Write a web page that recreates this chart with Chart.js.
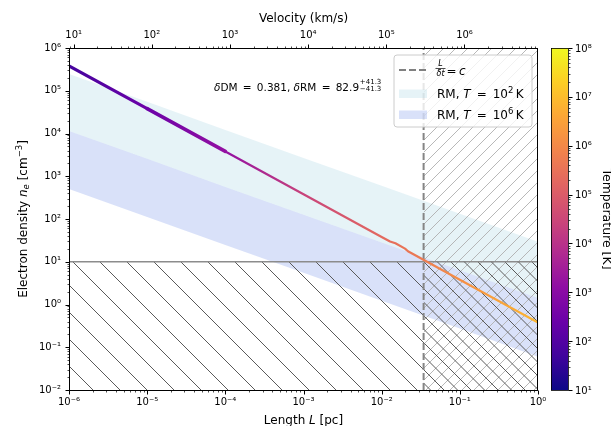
<!DOCTYPE html>
<html>
<head>
<meta charset="utf-8">
<script src="https://cdn.jsdelivr.net/npm/chart.js@4.4.1/dist/chart.umd.min.js"></script>
<style>
  html, body { margin: 0; padding: 0; background: #fff; }
  #c { display: block; }
</style>
</head>
<body>
<canvas id="c" width="611" height="426"></canvas>
<script>
/* n_e – L constraint plot: DM track coloured by temperature, RM bands,
   excluded regions (n_e floor, light-travel limit) and a velocity top axis. */

/* ---------- constants ---------- */
var PC_KM = 3.0857e13;      // km per parsec
var C_KMS = 2.998e5;        // speed of light [km/s]
var DELTA_T_S = 3.54e6;     // variability time-scale δt [s]
var DELTA_DM = 0.381;
var DELTA_RM = 82.9, DELTA_RM_ERR = 41.3;
var NE_FLOOR = 10;          // lower density limit [cm^-3]

/* ---------- data ---------- */
// DM track, n_e = δDM / L (with the small kink near 0.015 pc)
var trackL  = [1e-6, 1e-5, 1e-4, 1e-3, 1e-2, 0.0128, 0.0150, 0.0199, 0.0217, 0.1, 1];
var trackNe = [3.81e5, 3.81e4, 3810, 381, 38.1, 29.8, 27.0, 20.3, 17.6, 3.81, 0.381];

// temperature along the track [K]
var tempL = [1e-6, 1e-5, 1e-4, 1e-3, 1e-2, 1e-1, 1];
var tempK = [60, 280, 1500, 2.5e4, 2e5, 1.3e6, 8e6];

// RM bands (edges at each decade of L)
var bandL     = [1e-6, 1e-5, 1e-4, 1e-3, 1e-2, 1e-1, 1];
var rmCoolTop = [2.45e5, 5.5e4, 1.2e4, 2690, 603, 132, 29.5];
var rmHotTop  = [1.15e4, 2570, 562, 126, 28.2, 6.31, 1.41];
var rmHotBot  = [501, 112, 24.5, 5.5, 1.23, 0.275, 0.060];

// axis decades
var xDecades = [-6, -5, -4, -3, -2, -1, 0];
var yDecades = [-2, -1, 0, 1, 2, 3, 4, 5, 6];
var tDecades = [1, 2, 3, 4, 5, 6, 7, 8];

var L_MIN = Math.pow(10, xDecades[0]), L_MAX = Math.pow(10, xDecades[xDecades.length - 1]);
var NE_MIN = Math.pow(10, yDecades[0]), NE_MAX = Math.pow(10, yDecades[yDecades.length - 1]);
var T_MIN = Math.pow(10, tDecades[0]), T_MAX = Math.pow(10, tDecades[tDecades.length - 1]);
var V_MIN = L_MIN * PC_KM / DELTA_T_S, V_MAX = L_MAX * PC_KM / DELTA_T_S;
var L_LIGHT = C_KMS * DELTA_T_S / PC_KM;   // L where L/δt = c

/* ---------- helpers ---------- */
var FONT = '"DejaVu Sans", sans-serif';
var PLASMA = ['#0d0887', '#41049d', '#6a00a8', '#8f0da4', '#b12a90', '#cc4778',
              '#e16462', '#f2844b', '#fca636', '#fcce25', '#f0f921'];
var EQ = '\u2002=\u2002';   // wide spacing round "=" as in math text

function hexRgb(h) { return [parseInt(h.slice(1, 3), 16), parseInt(h.slice(3, 5), 16), parseInt(h.slice(5, 7), 16)]; }
function plasma(t) {
  t = Math.max(0, Math.min(1, t));
  var f = t * (PLASMA.length - 1), i = Math.min(Math.floor(f), PLASMA.length - 2), u = f - i;
  var a = hexRgb(PLASMA[i]), b = hexRgb(PLASMA[i + 1]);
  return 'rgb(' + [0, 1, 2].map(function (k) { return Math.round(a[k] + (b[k] - a[k]) * u); }).join(',') + ')';
}
function tNorm(T) { return (Math.log10(T) - tDecades[0]) / (tDecades[tDecades.length - 1] - tDecades[0]); }

var SUP = { '-': '\u207b', '0': '\u2070', '1': '\u00b9', '2': '\u00b2', '3': '\u00b3', '4': '\u2074',
            '5': '\u2075', '6': '\u2076', '7': '\u2077', '8': '\u2078', '9': '\u2079' };
function pow10Label(e) { return '10' + String(e).split('').map(function (ch) { return SUP[ch]; }).join(''); }

function decadeTicks(min, max) {
  var lo = Math.floor(Math.log10(min) + 1e-9), hi = Math.ceil(Math.log10(max) - 1e-9), out = [];
  for (var e = lo; e <= hi; e++) {
    for (var m = 1; m <= 9; m++) {
      var v = m * Math.pow(10, e);
      if (v >= min * 0.9999 && v <= max * 1.0001) out.push({ value: v, major: m === 1 });
    }
  }
  return out;
}
function setTicks(scale) { scale.ticks = decadeTicks(scale.min, scale.max); }
function tickLabel(v, i, ticks) { return ticks[i] && ticks[i].major ? pow10Label(Math.round(Math.log10(v))) : ''; }

function hatch(size, dir, color, width, shift) {
  var c = document.createElement('canvas');
  c.width = c.height = size;
  var g = c.getContext('2d');
  g.strokeStyle = color; g.lineWidth = width;
  for (var k = -1; k <= 1; k++) {
    var o = k * size + (shift || 0);
    g.beginPath();
    if (dir === '\\') { g.moveTo(o - 1, -1); g.lineTo(o + size + 1, size + 1); }
    else { g.moveTo(o - 1, size + 1); g.lineTo(o + size + 1, -1); }
    g.stroke();
  }
  return g.createPattern(c, 'repeat');
}

var gradCache = null;
function trackGradient(chart) {
  var area = chart.chartArea;
  if (!area) return '#6a00a8';
  var key = area.left + ',' + area.right;
  if (gradCache && gradCache.key === key) return gradCache.g;
  var xs = chart.scales.x, g = chart.ctx.createLinearGradient(area.left, 0, area.right, 0);
  tempL.forEach(function (l, i) {
    var f = (xs.getPixelForValue(l) - area.left) / (area.right - area.left);
    g.addColorStop(Math.max(0, Math.min(1, f)), plasma(tNorm(tempK[i])));
  });
  gradCache = { key: key, g: g };
  return g;
}

function pts(xs, ys) { return xs.map(function (x, i) { return { x: x, y: ys[i] }; }); }

/* rich text: parts = [{t, it, sz, dy}] */
function richWidth(ctx, parts, size) {
  var w = 0;
  parts.forEach(function (p) { ctx.font = (p.it ? 'italic ' : '') + (p.sz || size) + 'px ' + FONT; w += ctx.measureText(p.t).width; });
  return w;
}
function drawRich(ctx, parts, x, y, rot, size, align) {
  ctx.save();
  ctx.translate(x, y); ctx.rotate(rot || 0);
  ctx.textBaseline = 'alphabetic'; ctx.textAlign = 'left'; ctx.fillStyle = '#000';
  var cx = align === 'center' ? -richWidth(ctx, parts, size) / 2 : 0;
  parts.forEach(function (p) {
    ctx.font = (p.it ? 'italic ' : '') + (p.sz || size) + 'px ' + FONT;
    ctx.fillText(p.t, cx, p.dy || 0);
    cx += ctx.measureText(p.t).width;
  });
  ctx.restore();
  return cx;
}

/* ---------- frame, ticks, colour bar, titles, legend ---------- */
function tickMarks(ctx, scale, list, edge, dir) {
  list.forEach(function (t) {
    var p = Math.round(scale.getPixelForValue(t.value)) + 0.5, len = t.major ? 4 : 2;
    ctx.lineWidth = t.major ? 1 : 0.7;
    ctx.beginPath();
    if (scale.isHorizontal()) { ctx.moveTo(p, edge); ctx.lineTo(p, edge + dir * len); }
    else { ctx.moveTo(edge, p); ctx.lineTo(edge + dir * len, p); }
    ctx.stroke();
  });
}

var decor = {
  id: 'decor',
  afterDraw: function (chart) {
    var ctx = chart.ctx, a = chart.chartArea, s = chart.scales;
    ctx.save();
    ctx.strokeStyle = '#000';

    // axes frame and tick marks
    ctx.lineWidth = 1;
    ctx.strokeRect(a.left + 0.5, a.top + 0.5, a.right - a.left - 1, a.bottom - a.top);
    tickMarks(ctx, s.x, decadeTicks(L_MIN, L_MAX), a.bottom + 0.5, 1);
    tickMarks(ctx, s.xTop, decadeTicks(V_MIN, V_MAX), a.top + 0.5, -1);
    tickMarks(ctx, s.y, decadeTicks(NE_MIN, NE_MAX), a.left + 0.5, -1);

    // colour bar
    var cbL = a.right + 13, cbW = 17, yT = s.yT;
    var top = yT.getPixelForValue(T_MAX), bot = yT.getPixelForValue(T_MIN);
    var g = ctx.createLinearGradient(0, bot, 0, top);
    PLASMA.forEach(function (c, i) { g.addColorStop(i / (PLASMA.length - 1), c); });
    ctx.fillStyle = g;
    ctx.fillRect(cbL, top, cbW, bot - top);
    ctx.lineWidth = 0.8;
    ctx.strokeRect(cbL + 0.5, top + 0.5, cbW, bot - top);
    tickMarks(ctx, yT, decadeTicks(T_MIN, T_MAX), cbL + cbW + 0.5, 1);
    ctx.fillStyle = '#000'; ctx.font = '10px ' + FONT;
    ctx.textAlign = 'left'; ctx.textBaseline = 'middle';
    tDecades.forEach(function (e) { ctx.fillText(pow10Label(e), cbL + cbW + 7, yT.getPixelForValue(Math.pow(10, e)) + 1); });

    // axis titles
    var midY = (a.top + a.bottom) / 2, midX = (a.left + a.right) / 2;
    drawRich(ctx, [{ t: 'Electron density ' }, { t: 'n', it: 1 }, { t: 'e', it: 1, sz: 8.5, dy: 2 },
      { t: ' [cm' }, { t: '\u22123', sz: 8.5, dy: -5 }, { t: ']' }], 27, midY, -Math.PI / 2, 12, 'center');
    drawRich(ctx, [{ t: 'Length ' }, { t: 'L', it: 1 }, { t: ' [pc]' }], midX, 424, 0, 12, 'center');
    drawRich(ctx, [{ t: 'Velocity (km/s)' }], midX, 22, 0, 12, 'center');
    drawRich(ctx, [{ t: 'Temperature [K]' }], 602.5, midY, Math.PI / 2, 12.5, 'center');

    // δDM / δRM note
    var x0 = 214, base = 90.7;
    var xe = x0 + drawRich(ctx, [{ t: '\u03b4', it: 1 }, { t: 'DM' + EQ + DELTA_DM.toFixed(3) + ', ' }, { t: '\u03b4', it: 1 },
      { t: 'RM' + EQ + DELTA_RM.toFixed(1) }], x0, base, 0, 10.5, 'left');
    drawRich(ctx, [{ t: '+' + DELTA_RM_ERR.toFixed(1) }], xe + 0.8, base - 6.5, 0, 7, 'left');
    drawRich(ctx, [{ t: '\u2212' + DELTA_RM_ERR.toFixed(1) }], xe + 0.8, base, 0, 7, 'left');

    // legend
    var lx = 394, ly = 55, lw = 138, lh = 72, r = 3;
    ctx.beginPath();
    ctx.moveTo(lx + r, ly); ctx.lineTo(lx + lw - r, ly); ctx.arcTo(lx + lw, ly, lx + lw, ly + r, r);
    ctx.lineTo(lx + lw, ly + lh - r); ctx.arcTo(lx + lw, ly + lh, lx + lw - r, ly + lh, r);
    ctx.lineTo(lx + r, ly + lh); ctx.arcTo(lx, ly + lh, lx, ly + lh - r, r);
    ctx.lineTo(lx, ly + r); ctx.arcTo(lx, ly, lx + r, ly, r); ctx.closePath();
    ctx.fillStyle = 'rgba(255,255,255,0.8)'; ctx.fill();
    ctx.strokeStyle = '#cccccc'; ctx.lineWidth = 1; ctx.stroke();

    ctx.strokeStyle = '#808080'; ctx.lineWidth = 2; ctx.setLineDash([7, 3]);
    ctx.beginPath(); ctx.moveTo(399, 70); ctx.lineTo(427, 70); ctx.stroke();
    ctx.setLineDash([]);
    drawRich(ctx, [{ t: 'L', it: 1 }], 440.5, 66.3, 0, 8, 'center');
    ctx.strokeStyle = '#000'; ctx.lineWidth = 0.7;
    ctx.beginPath(); ctx.moveTo(435.5, 68.5); ctx.lineTo(445.5, 68.5); ctx.stroke();
    drawRich(ctx, [{ t: '\u03b4t', it: 1 }], 440.5, 75.5, 0, 8, 'center');
    drawRich(ctx, [{ t: '=' }], 446.5, 74.5, 0, 12, 'left');
    drawRich(ctx, [{ t: 'c', it: 1 }], 459, 74.5, 0, 12, 'left');

    ctx.fillStyle = 'rgba(173,216,230,0.3)'; ctx.fillRect(399, 89.5, 28, 8.5);
    ctx.fillStyle = 'rgba(65,105,225,0.2)'; ctx.fillRect(399, 110.5, 28, 8.5);
    [['2', 98], ['6', 119]].forEach(function (row) {
      drawRich(ctx, [{ t: 'RM, ' }, { t: 'T', it: 1 }, { t: EQ + '10' }, { t: row[0], sz: 8.5, dy: -5 },
        { t: '\u2009K' }], 437, row[1], 0, 12, 'left');
    });
    ctx.restore();
  }
};

/* ---------- chart ---------- */
var tickFont = { family: FONT, size: 10 };
new Chart(document.getElementById('c'), {
  type: 'line',
  data: {
    datasets: [
      { // 0: DM track
        data: pts(trackL, trackNe), order: 0, fill: false, pointRadius: 0,
        borderColor: function (c) { return trackGradient(c.chart); },
        borderWidth: 2.2, borderCapStyle: 'round', borderJoinStyle: 'round',
        segment: {
          borderColor: function (c) { return trackGradient(c.chart); },
          borderWidth: function (c) { var x = c.p0.parsed.x; return x < 9e-6 ? 3 : (x < 9e-5 ? 3.6 : 2.2); }
        }
      },
      { // 1: light-travel limit
        data: [{ x: L_LIGHT, y: NE_MIN }, { x: L_LIGHT, y: NE_MAX }], order: 1, fill: false, pointRadius: 0,
        borderColor: '#858585', borderWidth: 2, borderDash: [7, 3]
      },
      { // 2: extra back-hatch below the floor, beyond the light limit
        data: [{ x: L_LIGHT, y: NE_FLOOR }, { x: L_MAX, y: NE_FLOOR }], order: 2, pointRadius: 0,
        fill: 'start', backgroundColor: hatch(27, '\\', '#5a5a5a', 1, 13.5), borderColor: 'transparent', borderWidth: 0
      },
      { // 3: density floor
        data: [{ x: L_MIN, y: NE_FLOOR }, { x: L_MAX, y: NE_FLOOR }], order: 3, pointRadius: 0,
        fill: 'start', backgroundColor: hatch(27, '\\', '#5a5a5a', 1, 0), borderColor: '#8c8c8c', borderWidth: 1.6
      },
      { // 4: superluminal region
        data: [{ x: L_LIGHT, y: NE_MAX }, { x: L_MAX, y: NE_MAX }], order: 4, pointRadius: 0,
        fill: 'start', backgroundColor: hatch(12, '/', '#b0b0b0', 0.9, 0), borderColor: 'transparent', borderWidth: 0
      },
      { // 5: RM band, T = 1e6 K (upper edge)
        data: pts(bandL, rmHotTop), order: 5, pointRadius: 0,
        fill: 6, backgroundColor: 'rgba(65,105,225,0.2)', borderColor: 'transparent', borderWidth: 0
      },
      { // 6: RM band, T = 1e6 K (lower edge)
        data: pts(bandL, rmHotBot), order: 6, pointRadius: 0, fill: false,
        borderColor: 'transparent', borderWidth: 0
      },
      { // 7: RM band, T = 1e2 K
        data: pts(bandL, rmCoolTop), order: 7, pointRadius: 0,
        fill: 5, backgroundColor: 'rgba(173,216,230,0.3)', borderColor: 'transparent', borderWidth: 0
      }
    ]
  },
  options: {
    responsive: false, animation: false, events: [],
    layout: { padding: { left: 0, right: 73, top: 0, bottom: 0 } },
    plugins: { legend: { display: false }, tooltip: { enabled: false } },
    scales: {
      x: {
        type: 'logarithmic', position: 'bottom', min: L_MIN, max: L_MAX,
        afterBuildTicks: setTicks, afterFit: function (s) { s.height = 36; },
        grid: { display: false, drawTicks: false }, border: { display: false },
        ticks: { autoSkip: false, maxRotation: 0, minRotation: 0, padding: 6, color: '#000', font: tickFont, callback: tickLabel }
      },
      xTop: {
        type: 'logarithmic', position: 'top', min: V_MIN, max: V_MAX,
        afterBuildTicks: setTicks, afterFit: function (s) { s.height = 48; },
        grid: { display: false, drawTicks: false }, border: { display: false },
        ticks: { autoSkip: false, maxRotation: 0, minRotation: 0, padding: 7, color: '#000', font: tickFont, callback: tickLabel }
      },
      y: {
        type: 'logarithmic', position: 'left', min: NE_MIN, max: NE_MAX,
        afterBuildTicks: setTicks, afterFit: function (s) { s.width = 69; },
        grid: { display: false, drawTicks: false }, border: { display: false },
        ticks: { autoSkip: false, padding: 8, color: '#000', font: tickFont, callback: tickLabel }
      },
      yT: {
        type: 'logarithmic', position: 'right', display: false, min: T_MIN, max: T_MAX
      }
    }
  },
  plugins: [decor]
});
</script>
</body>
</html>
